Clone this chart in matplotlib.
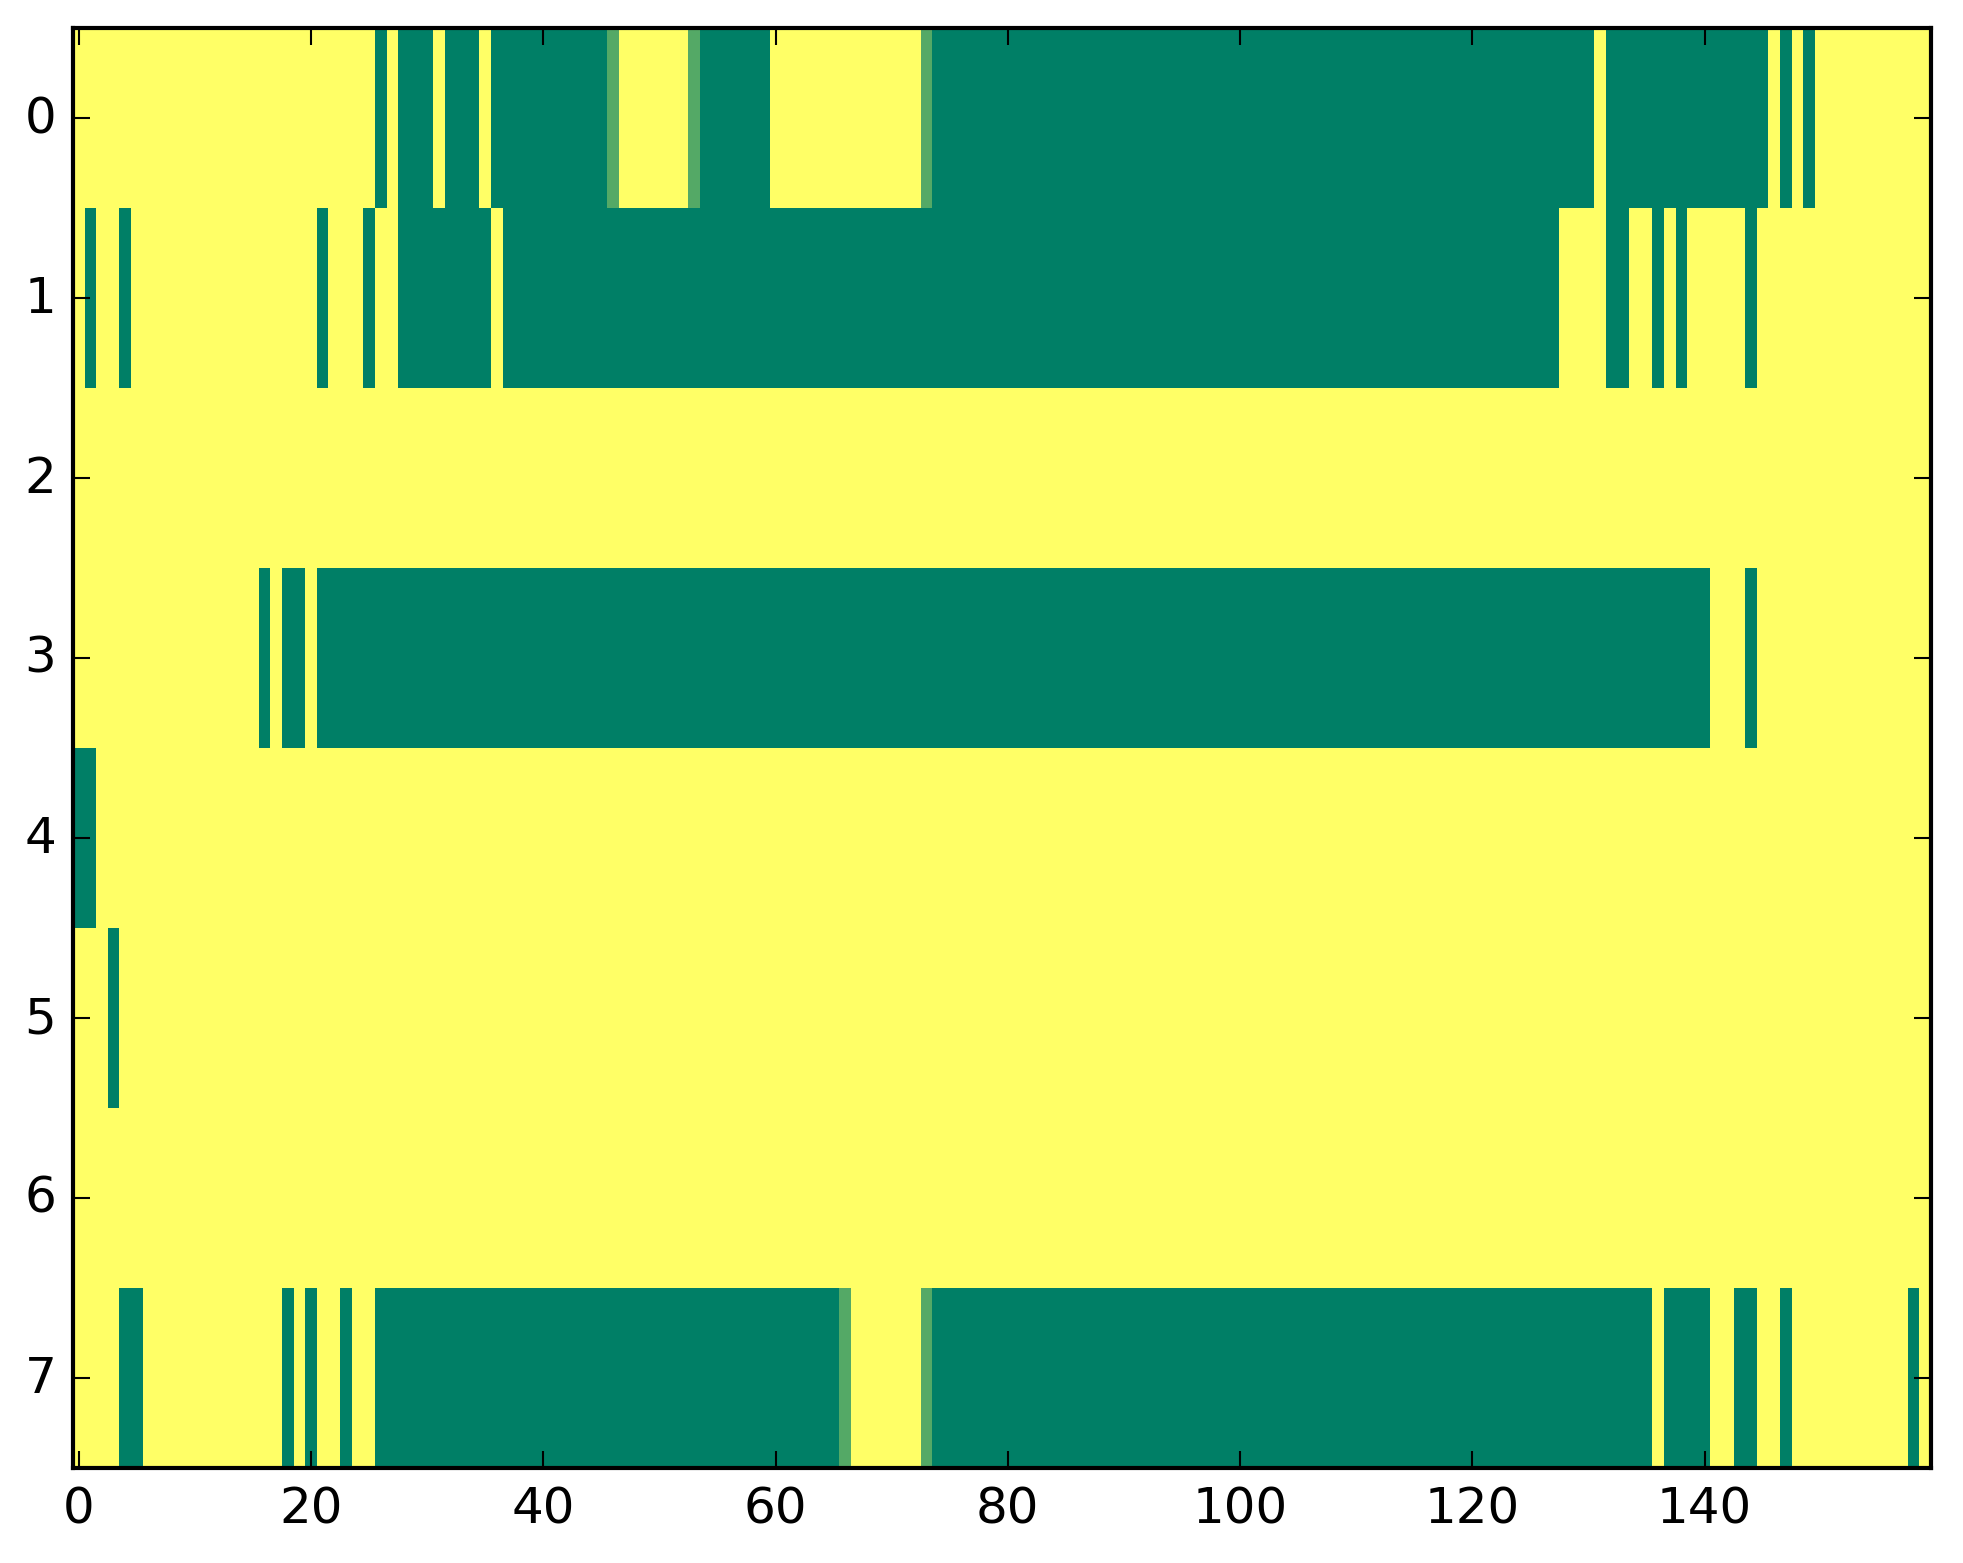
import numpy as np
import matplotlib
matplotlib.use("Agg")
import matplotlib.pyplot as plt

# grid size
n_rows = 8
n_cols = 160

# cells that are "off" (value 0), inclusive column ranges per row
row0_off = [(26, 26), (28, 30), (32, 34), (36, 45), (54, 59), (74, 130),
            (132, 145), (147, 147), (149, 149)]
row1_off = [(1, 1), (4, 4), (21, 21), (25, 25), (28, 35), (37, 127),
            (132, 133), (136, 136), (138, 138), (144, 144)]
row2_off = []
row3_off = [(16, 16), (18, 19), (21, 140), (144, 144)]
row4_off = [(0, 1)]
row5_off = [(3, 3)]
row6_off = []
row7_off = [(4, 5), (18, 18), (20, 20), (23, 23), (26, 65), (74, 135),
            (137, 140), (143, 144), (147, 147), (158, 158)]

# partial cells (value about 1/3)
row0_partial = [46, 53, 73]
row7_partial = [66, 73]
partial_value = 0.33

off_rows = [row0_off, row1_off, row2_off, row3_off,
            row4_off, row5_off, row6_off, row7_off]
partial_rows = {0: row0_partial, 7: row7_partial}

grid = np.ones((n_rows, n_cols))
for r, runs in enumerate(off_rows):
    for a, b in runs:
        grid[r, a:b + 1] = 0.0
for r, cols in partial_rows.items():
    for c in cols:
        grid[r, c] = partial_value

plt.style.use('classic')
plt.rcParams['font.size'] = 12

fig = plt.figure(figsize=(1963 / 300, 1564 / 300), dpi=300)
ax = fig.add_axes([73 / 1963, 1 - 1469 / 1564, 1858 / 1963, 1440 / 1564])
ax.imshow(grid, cmap='summer', aspect='auto', interpolation='nearest',
          vmin=0, vmax=1)
ax.set_xticks(np.arange(0, 141, 20))
ax.set_yticks(np.arange(0, 8))
ax.set_xlim(-0.5, n_cols - 0.5)
ax.set_ylim(n_rows - 0.5, -0.5)

fig.savefig('out.png', dpi=300)
